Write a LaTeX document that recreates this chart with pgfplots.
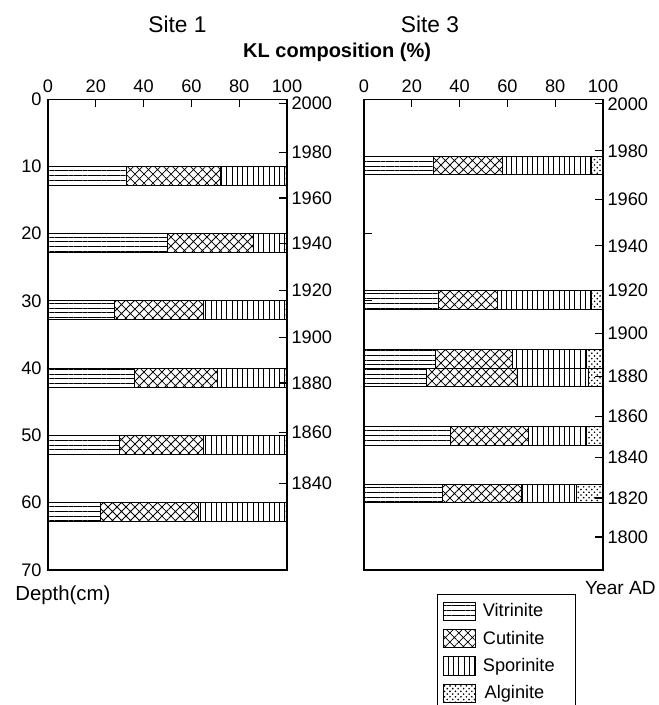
\documentclass[border=0pt]{standalone}
\usepackage{fontspec}
\setmainfont{Liberation Sans}
\usepackage{pgfplots}
\pgfplotsset{compat=1.18}
\usetikzlibrary{patterns,patterns.meta}
\tikzset{
 vit/.style={draw=black, line width=0.5pt, pattern={Lines[angle=0,distance=2.6pt,line width=0.4pt]}},
 cut/.style={draw=black, line width=0.5pt, pattern={Hatch[angle=45,distance=3.5pt,line width=0.4pt]}},
 spo/.style={draw=black, line width=0.5pt, pattern={Lines[angle=90,distance=2.9pt,line width=0.4pt]}},
 alg/.style={draw=black, line width=0.5pt, pattern=crosshatch dots},
}
\pgfplotsset{
 panel/.style={
  scale only axis, width=131.45pt, height=259pt,
  anchor=south west,
  xmin=0, xmax=100, ymin=0, ymax=70, y dir=reverse,
  xtick={0,20,...,100}, xtick pos=upper, xticklabel pos=upper,
  ytick={0,10,...,70}, ytick pos=lower,
  tick align=inside,
  axis line style={line width=0.6pt},
  tick style={line width=0.6pt, black},
  /pgf/number format/assume math mode=true,
  tick label style={font=\fontsize{10}{12}\selectfont},
 },
 yearaxis/.style={
  scale only axis, width=131.45pt, height=259pt,
  anchor=south west,
  xmin=0, xmax=100, ymin=0, ymax=70, y dir=reverse,
  xtick=\empty, axis line style={draw=none},
  ytick pos=upper, yticklabel pos=upper,
  tick align=inside,
  tick style={line width=0.6pt, black},
  yticklabel style={font=\fontsize{10}{12}\selectfont, xshift=-1pt},
 },
}
\begin{document}
\begin{tikzpicture}
% ---------- Site 1 ----------
\begin{axis}[panel, at={(26.4pt,74.25pt)}, xbar stacked, bar width=2.8, bar shift=0pt]
\addplot[vit] coordinates {(33,11.4) (50,21.4) (28,31.4) (36,41.4) (30,51.4) (22,61.4)};
\addplot[cut] coordinates {(39,11.4) (36,21.4) (37,31.4) (35,41.4) (35,51.4) (41,61.4)};
\addplot[spo] coordinates {(27,11.4) (13,21.4) (34,31.4) (28,41.4) (34,51.4) (36,61.4)};
\addplot[alg] coordinates {(1,11.4) (1,21.4) (1,31.4) (1,41.4) (1,51.4) (1,61.4)};
\end{axis}
\begin{axis}[yearaxis, at={(26.4pt,74.25pt)},
  ytick={0.6,7.9,14.7,21.5,28.4,35.4,42.2,49.5,57.1},
  yticklabels={2000,1980,1960,1940,1920,1900,1880,1860,1840}]
\addplot[draw=none] coordinates {(0,0)};
\end{axis}
% ---------- Site 3 ----------
\begin{axis}[panel, at={(200.2pt,74.25pt)}, xbar stacked, bar width=2.75, bar shift=0pt,
  yticklabels={},
  legend style={at={(0.305,-0.051)}, anchor=north west, draw=black, line width=0.6pt,
    font=\fontsize{10}{12}\selectfont, row sep=2.2pt, inner xsep=3pt, inner ysep=3pt},
  legend cell align=left,
  legend image code/.code={\draw[#1] (0pt,-5pt) rectangle (17.5pt,5pt);}]
\addplot[vit] coordinates {(29,9.9) (31,29.85) (30,38.65) (26,41.4) (36,50.05) (33,58.6)};
\addplot[cut] coordinates {(29,9.9) (25,29.85) (32,38.65) (38,41.4) (33,50.05) (33,58.6)};
\addplot[spo] coordinates {(37,9.9) (39,29.85) (31,38.65) (30,41.4) (24,50.05) (23,58.6)};
\addplot[alg] coordinates {(5,9.9) (5,29.85) (7,38.65) (6,41.4) (7,50.05) (11,58.6)};
\legend{\makebox[48pt][l]{\hspace{2pt}Vitrinite},\makebox[48pt][l]{\hspace{2pt}Cutinite},\makebox[48pt][l]{\hspace{2pt}Sporinite},\makebox[48pt][l]{\hspace{3pt}Alginite}}
\end{axis}
\begin{axis}[yearaxis, at={(200.2pt,74.25pt)},
  ytick={0.7,7.7,14.9,21.8,28.4,34.8,41.2,47.2,53.3,59.3,65.1},
  yticklabels={2000,1980,1960,1940,1920,1900,1880,1860,1840,1820,1800}]
\addplot[draw=none] coordinates {(0,0)};
\end{axis}
% ---------- texts ----------
\node[font=\fontsize{12.5}{14}\selectfont] at (97.6pt,374.3pt) {Site 1};
\node[font=\fontsize{12.5}{14}\selectfont] at (236.5pt,374.3pt) {Site 3};
\node[font=\fontsize{11}{13}\selectfont\bfseries] at (185.4pt,359.15pt) {KL composition (\%)};
\node[font=\fontsize{11.2}{13}\selectfont, anchor=west, inner sep=0pt] at (8.25pt,60.5pt) {Depth(cm)};
\node[font=\fontsize{10.5}{13}\selectfont, anchor=east, inner sep=0pt] at (360.8pt,64.4pt) {Year AD};
\pgfresetboundingbox
\path (0pt,0pt) rectangle (361.9pt,387.75pt);
\end{tikzpicture}
\end{document}
